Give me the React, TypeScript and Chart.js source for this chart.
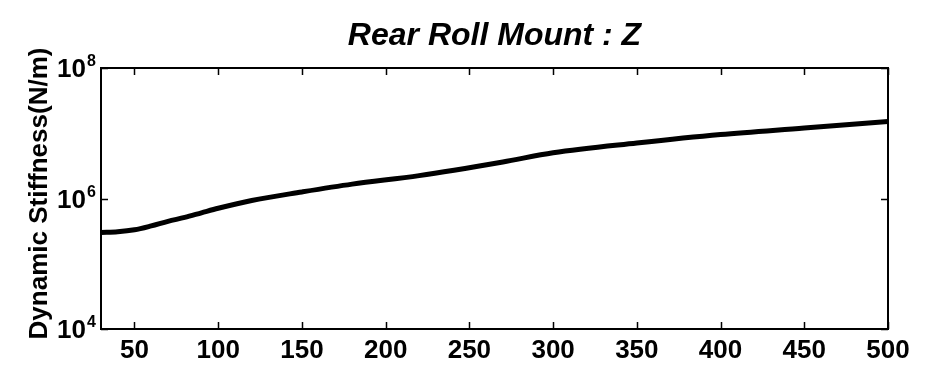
import React, { useEffect, useRef } from "react";
import { Chart, registerables } from "chart.js";

Chart.register(...registerables);

// Frequency (Hz) and dynamic stiffness (N/m) of the rear roll mount, Z direction
const frequencyHz = [30, 40, 50, 60, 70, 80, 90, 100, 120, 150, 180, 220, 270, 300, 350, 400, 450, 500];
const stiffnessNm = [
  3.02e5, 3.09e5, 3.31e5, 3.8e5, 4.47e5, 5.13e5, 6.03e5, 7.08e5, 9.33e5,
  1.26e6, 1.66e6, 2.24e6, 3.63e6, 5.01e6, 7.08e6, 9.55e6, 1.2e7, 1.51e7,
];
const xTickValues = [50, 100, 150, 200, 250, 300, 350, 400, 450, 500];
const yTickExponents = [4, 6, 8];

const titleText = "Rear Roll Mount : Z";
const yAxisTitle = "Dynamic Stiffness(N/m)";

const FONT = '"Liberation Sans", Arial, sans-serif';

const framePlugin = {
  id: "matlabFrame",
  afterDatasetsDraw(chart: any) {
    const { ctx, chartArea } = chart;
    const xs = chart.scales.x;
    const ys = chart.scales.y;
    const { left, right, top, bottom } = chartArea;
    ctx.save();
    ctx.strokeStyle = "#000";
    ctx.fillStyle = "#000";
    ctx.lineWidth = 2;
    ctx.strokeRect(left, top, right - left, bottom - top);

    // inward tick marks on bottom and top
    ctx.lineWidth = 1.5;
    for (const v of xTickValues) {
      const px = Math.round(xs.getPixelForValue(v)) + 0.5;
      ctx.beginPath();
      ctx.moveTo(px, bottom);
      ctx.lineTo(px, bottom - 7);
      ctx.moveTo(px, top);
      ctx.lineTo(px, top + 7);
      ctx.stroke();
    }
    for (const e of yTickExponents) {
      const py = Math.round(ys.getPixelForValue(Math.pow(10, e))) + 0.5;
      ctx.beginPath();
      ctx.moveTo(left, py);
      ctx.lineTo(left + 7, py);
      ctx.moveTo(right, py);
      ctx.lineTo(right - 7, py);
      ctx.stroke();
    }

    // x tick labels
    ctx.font = `bold 26px ${FONT}`;
    ctx.textAlign = "center";
    ctx.textBaseline = "alphabetic";
    for (const v of xTickValues) {
      const px = xs.getPixelForValue(v);
      ctx.fillText(String(v), px, bottom + 29);
    }

    // y tick labels: 10 with superscript exponent
    for (const e of yTickExponents) {
      const py = ys.getPixelForValue(Math.pow(10, e));
      ctx.font = `bold 26px ${FONT}`;
      ctx.textAlign = "right";
      ctx.fillText("10", left - 15, py + 9);
      ctx.font = `bold 16px ${FONT}`;
      ctx.textAlign = "left";
      ctx.fillText(String(e), left - 14, py - 2);
    }

    // title
    ctx.font = `italic bold 32px ${FONT}`;
    ctx.textAlign = "center";
    ctx.fillText(titleText, (left + right) / 2, 45);

    // y axis title
    ctx.translate(47, (top + bottom) / 2 - 5);
    ctx.rotate(-Math.PI / 2);
    ctx.font = `bold 26px ${FONT}`;
    ctx.textAlign = "center";
    ctx.fillText(yAxisTitle, 0, 0);
    ctx.restore();
  },
};

export default function App() {
  const canvasRef = useRef<HTMLCanvasElement | null>(null);

  useEffect(() => {
    document.body.style.margin = "0";
    document.body.style.background = "#fff";
    const canvas = canvasRef.current;
    if (!canvas) return;
    const chart = new Chart(canvas, {
      type: "line",
      data: {
        datasets: [
          {
            data: frequencyHz.map((f, i) => ({ x: f, y: stiffnessNm[i] })),
            borderColor: "#000",
            borderWidth: 5,
            pointRadius: 0,
            cubicInterpolationMode: "monotone",
            fill: false,
          },
        ],
      },
      options: {
        responsive: false,
        animation: false,
        devicePixelRatio: 1,
        layout: { padding: { left: 101, right: 43, top: 68, bottom: 38 } },
        plugins: { legend: { display: false }, tooltip: { enabled: false } },
        scales: {
          x: { type: "linear", min: 30, max: 500, display: false },
          y: { type: "logarithmic", min: 1e4, max: 1e8, display: false },
        },
      },
      plugins: [framePlugin],
    });
    return () => chart.destroy();
  }, []);

  return (
    <div style={{ position: "fixed", left: 0, top: 0, width: 931, height: 367, background: "#fff" }}>
      <canvas ref={canvasRef} width={931} height={367} />
    </div>
  );
}
